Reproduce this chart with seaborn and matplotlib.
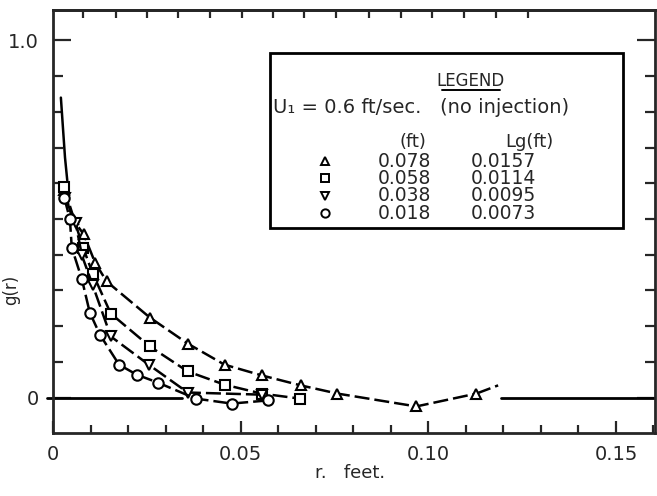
import numpy as np
import pandas as pd
import seaborn as sns
import matplotlib.pyplot as plt
from matplotlib.patches import Rectangle
from matplotlib.ticker import MultipleLocator

# Data: r (ft) vs g(r), one series per grid size
r_tri = [0.0030, 0.0052, 0.0082, 0.0112, 0.0143, 0.0258, 0.0359, 0.0457, 0.0556, 0.0660, 0.0758, 0.0968, 0.1128]
g_tri = [0.580, 0.500, 0.457, 0.378, 0.325, 0.224, 0.151, 0.092, 0.062, 0.034, 0.011, -0.025, 0.011]

r_sq = [0.0029, 0.0080, 0.0106, 0.0154, 0.0258, 0.0359, 0.0457, 0.0556, 0.0657]
g_sq = [0.590, 0.420, 0.347, 0.235, 0.143, 0.073, 0.036, 0.011, -0.003]

r_dtri = [0.0032, 0.0060, 0.0077, 0.0106, 0.0154, 0.0255, 0.0359, 0.0556]
g_dtri = [0.560, 0.490, 0.398, 0.314, 0.171, 0.092, 0.014, 0.008]

r_circ = [0.0030, 0.0045, 0.0050, 0.0077, 0.0098, 0.0125, 0.0176, 0.0223, 0.0279, 0.0380, 0.0476, 0.0574]
g_circ = [0.560, 0.500, 0.420, 0.331, 0.238, 0.176, 0.092, 0.064, 0.042, -0.003, -0.017, -0.008]

# solid extrapolation toward r = 0
top_r = [0.0021, 0.0027, 0.0032, 0.0038]
top_g = [0.840, 0.748, 0.672, 0.608]

# short tail after last triangle
tail_r = [0.1128, 0.1186]
tail_g = [0.011, 0.034]

lg_labels = ["0.0157", "0.0114", "0.0095", "0.0073"]
l_labels = ["0.078", "0.058", "0.038", "0.018"]
mark = ["^", "s", "v", "o"]

top_ticks = [0.0080, 0.0168, 0.0250, 0.0332, 0.0418, 0.0503, 0.0585, 0.0670,
             0.0755, 0.0843, 0.0928, 0.1011, 0.1096, 0.1181, 0.1266]

sns.set_style("ticks")
plt.rcParams['font.family'] = ['DejaVu Sans']

fig = plt.figure(figsize=(6.57, 4.96), dpi=100)
ax = fig.add_axes([53/657, 1-433/496, (655-53)/657, (433-10)/496])

series = [(r_tri, g_tri), (r_sq, g_sq), (r_dtri, g_dtri), (r_circ, g_circ)]
for (rr, gg), m in zip(series, mark):
    df = pd.DataFrame({"r": rr, "g": gg})
    sns.lineplot(data=df, x="r", y="g", ax=ax, color="black", lw=1.8,
                 linestyle=(0, (6, 2)), marker=m, markersize=7.5,
                 markerfacecolor="white", markeredgecolor="black",
                 markeredgewidth=1.5, estimator=None, errorbar=None, sort=False)

sns.lineplot(x=top_r, y=top_g, ax=ax, color="black", lw=1.8, estimator=None, sort=False)
sns.lineplot(x=tail_r, y=tail_g, ax=ax, color="black", lw=1.8,
             linestyle=(0, (6, 2)), estimator=None, sort=False, zorder=1)

# zero line pieces
ax.plot([-0.0017, 0.0345], [0, 0], color="black", lw=2, clip_on=False, zorder=1)
ax.plot([0.1194, 0.1604], [0, 0], color="black", lw=2, zorder=1)

ax.set_xlim(0, 0.1604)
ax.set_ylim(-0.0994, 1.0854)

ax.set_xticks([0, 0.05, 0.10, 0.15], labels=["0", "0.05", "0.10", "0.15"])
ax.xaxis.set_minor_locator(MultipleLocator(0.01))
ax.set_yticks([0, 1.0], labels=["0", "1.0"])
ax.yaxis.set_minor_locator(MultipleLocator(0.1))

ax.tick_params(axis="x", which="major", direction="in", length=8.5, width=1.6,
               labelsize=14, pad=9)
ax.tick_params(axis="x", which="minor", direction="in", length=5.5, width=1.6)
ax.tick_params(axis="y", which="major", direction="in", length=13, width=1.6,
               labelsize=14, pad=10, right=True)
ax.tick_params(axis="y", which="minor", direction="in", length=7, width=1.6, right=True)

secax = ax.secondary_xaxis("top")
secax.set_xticks(top_ticks, labels=[])
secax.tick_params(direction="in", length=6, width=1.6)
secax.spines["top"].set_linewidth(2)

for s in ax.spines.values():
    s.set_linewidth(2)

ax.set_xlabel("r.   feet.", fontsize=13)
ax.set_ylabel("g(r)", fontsize=12)
ax.xaxis.set_label_coords((350-53)/602, -(464-433)/423)
ax.yaxis.set_label_coords(-(53-20)/602, (433-290)/423)

# legend block
T = ax.transAxes
ax.add_patch(Rectangle((0.3605, 0.4846), 0.9468-0.3605, 0.898-0.4846, transform=T,
                       facecolor="white", edgecolor="black", lw=2, zorder=5))
ax.text(0.6927, 0.832, "LEGEND", transform=T, ha="center", va="center", fontsize=12, zorder=6)
ax.plot([0.646, 0.7425], [0.810, 0.810], transform=T, color="black", lw=1.4, zorder=6)
ax.text(0.3654, 0.770, "U\u2081 = 0.6 ft/sec.   (no injection)", transform=T,
        ha="left", va="center", fontsize=14, zorder=6)
ax.text(0.598, 0.688, "(ft)", transform=T, ha="center", va="center", fontsize=13, zorder=6)
ax.text(0.791, 0.688, "Lg(ft)", transform=T, ha="center", va="center", fontsize=13, zorder=6)
rows_y = [0.643, 0.602, 0.561, 0.520]
for yy, m, a, b in zip(rows_y, mark, l_labels, lg_labels):
    ax.plot([0.4518], [yy], transform=T, marker=m, markersize=6, mfc="white",
            mec="black", mew=1.4, zorder=6)
    ax.text(0.540, yy, a, transform=T, ha="left", va="center", fontsize=13.5, zorder=6)
    ax.text(0.694, yy, b, transform=T, ha="left", va="center", fontsize=13.5, zorder=6)

plt.savefig("out.png", dpi=100)
